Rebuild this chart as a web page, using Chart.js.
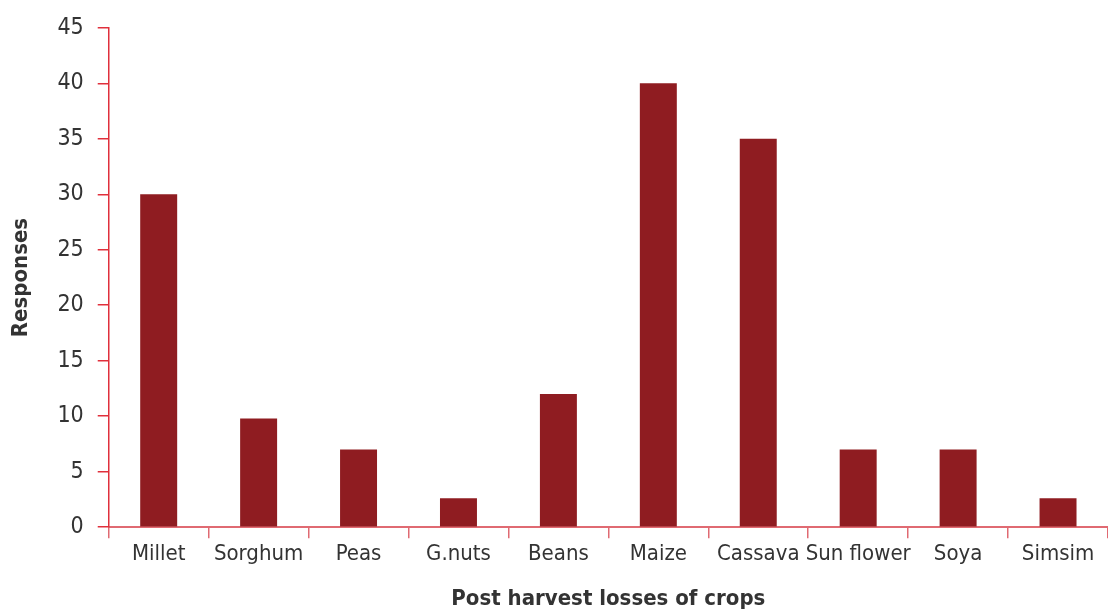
<!DOCTYPE html>
<html>
<head>
<meta charset="utf-8">
<script src="https://cdn.jsdelivr.net/npm/chart.js@4"></script>
<style>
  html, body { margin: 0; padding: 0; background: #fff; }
  #wrap { width: 1108px; height: 612px; }
</style>
</head>
<body>
<div id="wrap"><canvas id="barChart" width="1108" height="612"></canvas></div>
<script>
const crops = ["Millet", "Sorghum", "Peas", "G.nuts", "Beans", "Maize", "Cassava", "Sun flower", "Soya", "Simsim"]
const responses = [30, 9.8, 7, 2.6, 12, 40, 35, 7, 7, 2.6]
const yMin = 0
const yMax = 45
const yStep = 5

const fontFamily = "'DejaVu Sans Condensed', 'Liberation Sans Narrow', sans-serif"
const textColor = "#333333"

const ctxBarChart = document.getElementById("barChart").getContext("2d")

const dataBarChart = {
    labels: crops,
    datasets: [
        {
            label: "Responses",
            data: responses,
            backgroundColor: "#8f1c21",
            borderWidth: 0,
            barPercentage: 0.37,
            categoryPercentage: 1
        }]
};

var myBarChart = new Chart(ctxBarChart, {
    type: 'bar',
    data: dataBarChart,
    options: {
        responsive: false,
        animation: false,
        layout: { padding: { left: 8, top: 9, right: 0, bottom: 0 } },
        plugins: {
            legend: { display: false },
            tooltip: { enabled: false }
        },
        scales: {
            x: {
                grid: {
                    display: true,
                    drawOnChartArea: false,
                    drawTicks: true,
                    tickLength: 11,
                    color: "#e06a72",
                    lineWidth: 1.5
                },
                border: { display: true, color: "#e06a72", width: 2 },
                ticks: {
                    color: textColor,
                    font: { family: fontFamily, size: 22 },
                    padding: 3,
                    maxRotation: 0,
                    autoSkip: false
                },
                title: {
                    display: true,
                    text: "Post harvest losses of crops",
                    color: textColor,
                    font: { family: fontFamily, size: 22, weight: 'bold' },
                    padding: { top: 15, bottom: 0 }
                }
            },
            y: {
                min: yMin,
                max: yMax,
                grid: {
                    display: true,
                    drawOnChartArea: false,
                    drawTicks: true,
                    tickLength: 11,
                    color: "#e0303c",
                    lineWidth: 1.5
                },
                border: { display: true, color: "#e0303c", width: 1.5 },
                ticks: {
                    stepSize: yStep,
                    color: textColor,
                    font: { family: fontFamily, size: 23 },
                    padding: 14
                },
                title: {
                    display: true,
                    text: "Responses",
                    color: textColor,
                    font: { family: fontFamily, size: 22, weight: 'bold' },
                    padding: { top: 0, bottom: 9 }
                }
            }
        }
    }
});
</script>
</body>
</html>
